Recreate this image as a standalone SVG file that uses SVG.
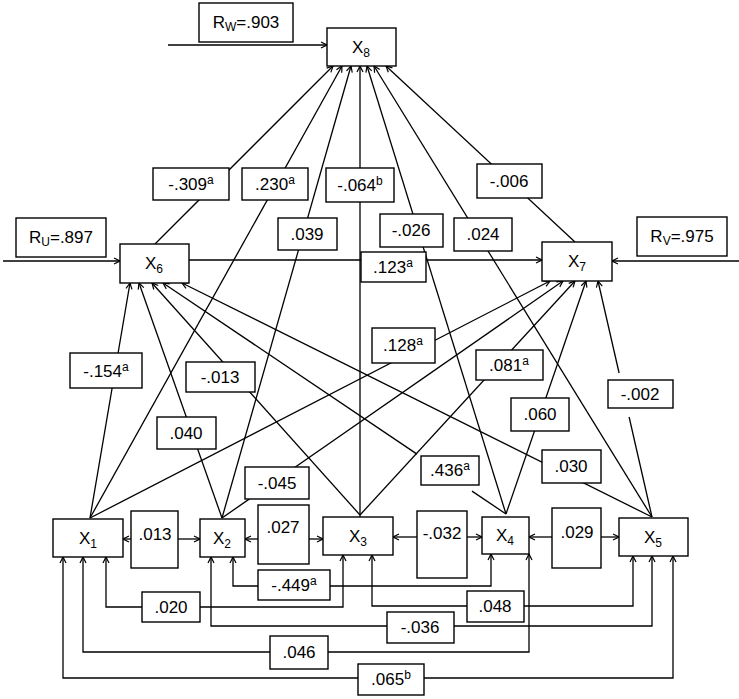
<svg xmlns="http://www.w3.org/2000/svg" width="739" height="699" viewBox="0 0 739 699">
<defs>
<marker id="ah" viewBox="-8 -5 9 10" refX="0" refY="0" markerWidth="9" markerHeight="10" markerUnits="userSpaceOnUse" orient="auto-start-reverse">
<path d="M-6,-3 L0,0 L-6,3" fill="none" stroke="#000" stroke-width="1.2"/>
</marker>
<style>
rect{fill:#fff;stroke:#000;stroke-width:1.4}
.c line,.c polyline{stroke:#000;stroke-width:1.3;fill:none}
.a{marker-end:url(#ah)}
.b{marker-start:url(#ah);marker-end:url(#ah)}
text{font-family:"Liberation Sans",Arial,sans-serif;font-size:17px;fill:#000;text-anchor:middle}
.s{font-size:12px}
</style>
</defs>
<rect x="0" y="0" width="739" height="699" style="stroke:none"/>

<g id="connectors" class="c">
<!-- error terms -->
<line class="a" x1="168" y1="45" x2="327" y2="45"/>
<line class="a" x1="3" y1="261" x2="120" y2="261"/>
<line class="a" x1="739" y1="261" x2="612" y2="261"/>
<!-- X6 -> X7 -->
<line class="a" x1="189" y1="260" x2="542" y2="260"/>
<!-- to X6 -->
<line class="a" x1="90" y1="518" x2="130" y2="283"/>
<line class="a" x1="222" y1="518" x2="139" y2="283"/>
<line class="a" x1="360" y1="515" x2="152" y2="283"/>
<line x1="506" y1="514" x2="472" y2="491.1"/>
<line class="a" x1="417" y1="454.1" x2="163" y2="283"/>
<line class="a" x1="652" y1="517" x2="182" y2="283"/>
<!-- to X7 -->
<line class="a" x1="90" y1="518" x2="550" y2="281"/>
<line class="a" x1="222" y1="518" x2="563" y2="281"/>
<line class="a" x1="360" y1="515" x2="575" y2="281"/>
<line class="a" x1="506" y1="514" x2="586" y2="281"/>
<line x1="652" y1="517" x2="629.1" y2="417"/>
<line class="a" x1="619.1" y1="373" x2="598" y2="281"/>
<!-- to X8 -->
<line class="a" x1="155" y1="244" x2="333" y2="66"/>
<line class="a" x1="90" y1="518" x2="342" y2="66"/>
<line class="a" x1="222" y1="518" x2="351" y2="66"/>
<line class="a" x1="360" y1="517" x2="360" y2="66"/>
<line class="a" x1="506" y1="514" x2="367" y2="66"/>
<line class="a" x1="652" y1="517" x2="374" y2="66"/>
<line class="a" x1="575" y1="242" x2="386" y2="66"/>
<!-- adjacent correlations -->
<line class="a" x1="131" y1="539" x2="123" y2="539"/>
<line class="a" x1="178" y1="539" x2="200" y2="539"/>
<line class="a" x1="258" y1="539" x2="245" y2="539"/>
<line class="a" x1="309" y1="539" x2="323" y2="539"/>
<line class="a" x1="417" y1="537" x2="393" y2="537"/>
<line class="a" x1="467" y1="537" x2="482" y2="537"/>
<line class="a" x1="552" y1="537" x2="529" y2="537"/>
<line class="a" x1="601" y1="537" x2="619" y2="537"/>
<!-- long correlations -->
<polyline class="b" points="233,557 233,586 491,586 491,554"/>
<polyline class="b" points="106,557 106,607 343,607 343,555"/>
<polyline class="b" points="372,555 372,606 633,606 633,556"/>
<polyline class="b" points="211,557 211,626 652,626 652,556"/>
<polyline class="b" points="83,557 83,652 529,652 529,554"/>
<polyline class="b" points="63,557 63,678 673,678 673,556"/>
</g>

<g id="edge-labels">
<rect x="199" y="3" width="94" height="39"/><text x="246" y="28">R<tspan class="s" dy="3">W</tspan><tspan dy="-3">=.903</tspan></text>
<rect x="16" y="218" width="90" height="39"/><text x="61" y="243">R<tspan class="s" dy="3">U</tspan><tspan dy="-3">=.897</tspan></text>
<rect x="637" y="217" width="90" height="39"/><text x="682" y="242">R<tspan class="s" dy="3">V</tspan><tspan dy="-3">=.975</tspan></text>
<rect x="361" y="252" width="65" height="30"/><text x="393" y="273">.123<tspan class="s" dy="-6">a</tspan></text>

<rect x="70" y="353" width="72" height="35"/><text x="106" y="377">-.154<tspan class="s" dy="-6">a</tspan></text>
<rect x="157" y="417" width="59" height="32"/><text x="186" y="439">.040</text>
<rect x="186" y="362" width="69" height="30"/><text x="220" y="383">-.013</text>
<rect x="421" y="456" width="58" height="29"/><text x="450" y="476">.436<tspan class="s" dy="-6">a</tspan></text>
<rect x="542" y="450" width="59" height="33"/><text x="571" y="472">.030</text>

<rect x="372" y="328" width="63" height="35"/><text x="403" y="351">.128<tspan class="s" dy="-6">a</tspan></text>
<rect x="245" y="467" width="64" height="32"/><text x="277" y="489">-.045</text>
<rect x="476" y="350" width="67" height="30"/><text x="509" y="371">.081<tspan class="s" dy="-6">a</tspan></text>
<rect x="511" y="398" width="58" height="33"/><text x="540" y="420">.060</text>
<rect x="608" y="380" width="65" height="28"/><text x="640" y="400">-.002</text>

<rect x="153" y="168" width="76" height="32"/><text x="191" y="190">-.309<tspan class="s" dy="-6">a</tspan></text>
<rect x="242" y="168" width="66" height="32"/><text x="275" y="190">.230<tspan class="s" dy="-6">a</tspan></text>
<rect x="278" y="218" width="59" height="32"/><text x="307" y="240">.039</text>
<rect x="326" y="168" width="68" height="34"/><text x="360" y="191">-.064<tspan class="s" dy="-6">b</tspan></text>
<rect x="380" y="214" width="63" height="33"/><text x="411" y="236">-.026</text>
<rect x="454" y="218" width="58" height="33"/><text x="483" y="240">.024</text>
<rect x="477" y="164" width="65" height="34"/><text x="509" y="187">-.006</text>

<rect x="131" y="511" width="47" height="57"/><text x="155" y="540">.013</text>
<rect x="258" y="505" width="51" height="59"/><text x="283" y="533">.027</text>
<rect x="417" y="511" width="50" height="67"/><text x="442" y="539">-.032</text>
<rect x="552" y="508" width="49" height="60"/><text x="577" y="538">.029</text>

<rect x="258" y="570" width="72" height="30"/><text x="294" y="591">-.449<tspan class="s" dy="-6">a</tspan></text>
<rect x="142" y="592" width="58" height="30"/><text x="171" y="613">.020</text>
<rect x="467" y="591" width="57" height="31"/><text x="495" y="612">.048</text>
<rect x="387" y="612" width="67" height="31"/><text x="420" y="633">-.036</text>
<rect x="270" y="636" width="58" height="33"/><text x="299" y="658">.046</text>
<rect x="358" y="664" width="66" height="31"/><text x="391" y="685">.065<tspan class="s" dy="-6">b</tspan></text>
</g>

<g id="X8"><rect x="327" y="28" width="69" height="38"/><text x="361" y="53">X<tspan class="s" dy="4">8</tspan></text></g>
<g id="X6"><rect x="120" y="244" width="69" height="39"/><text x="154" y="269">X<tspan class="s" dy="4">6</tspan></text></g>
<g id="X7"><rect x="542" y="242" width="70" height="39"/><text x="577" y="267">X<tspan class="s" dy="4">7</tspan></text></g>
<g id="X1"><rect x="53" y="519" width="70" height="38"/><text x="88" y="544">X<tspan class="s" dy="4">1</tspan></text></g>
<g id="X2"><rect x="200" y="519" width="45" height="38"/><text x="222" y="544">X<tspan class="s" dy="4">2</tspan></text></g>
<g id="X3"><rect x="323" y="517" width="70" height="38"/><text x="358" y="542">X<tspan class="s" dy="4">3</tspan></text></g>
<g id="X4"><rect x="482" y="517" width="47" height="37"/><text x="505" y="541">X<tspan class="s" dy="4">4</tspan></text></g>
<g id="X5"><rect x="619" y="518" width="69" height="38"/><text x="653" y="543">X<tspan class="s" dy="4">5</tspan></text></g>
</svg>
